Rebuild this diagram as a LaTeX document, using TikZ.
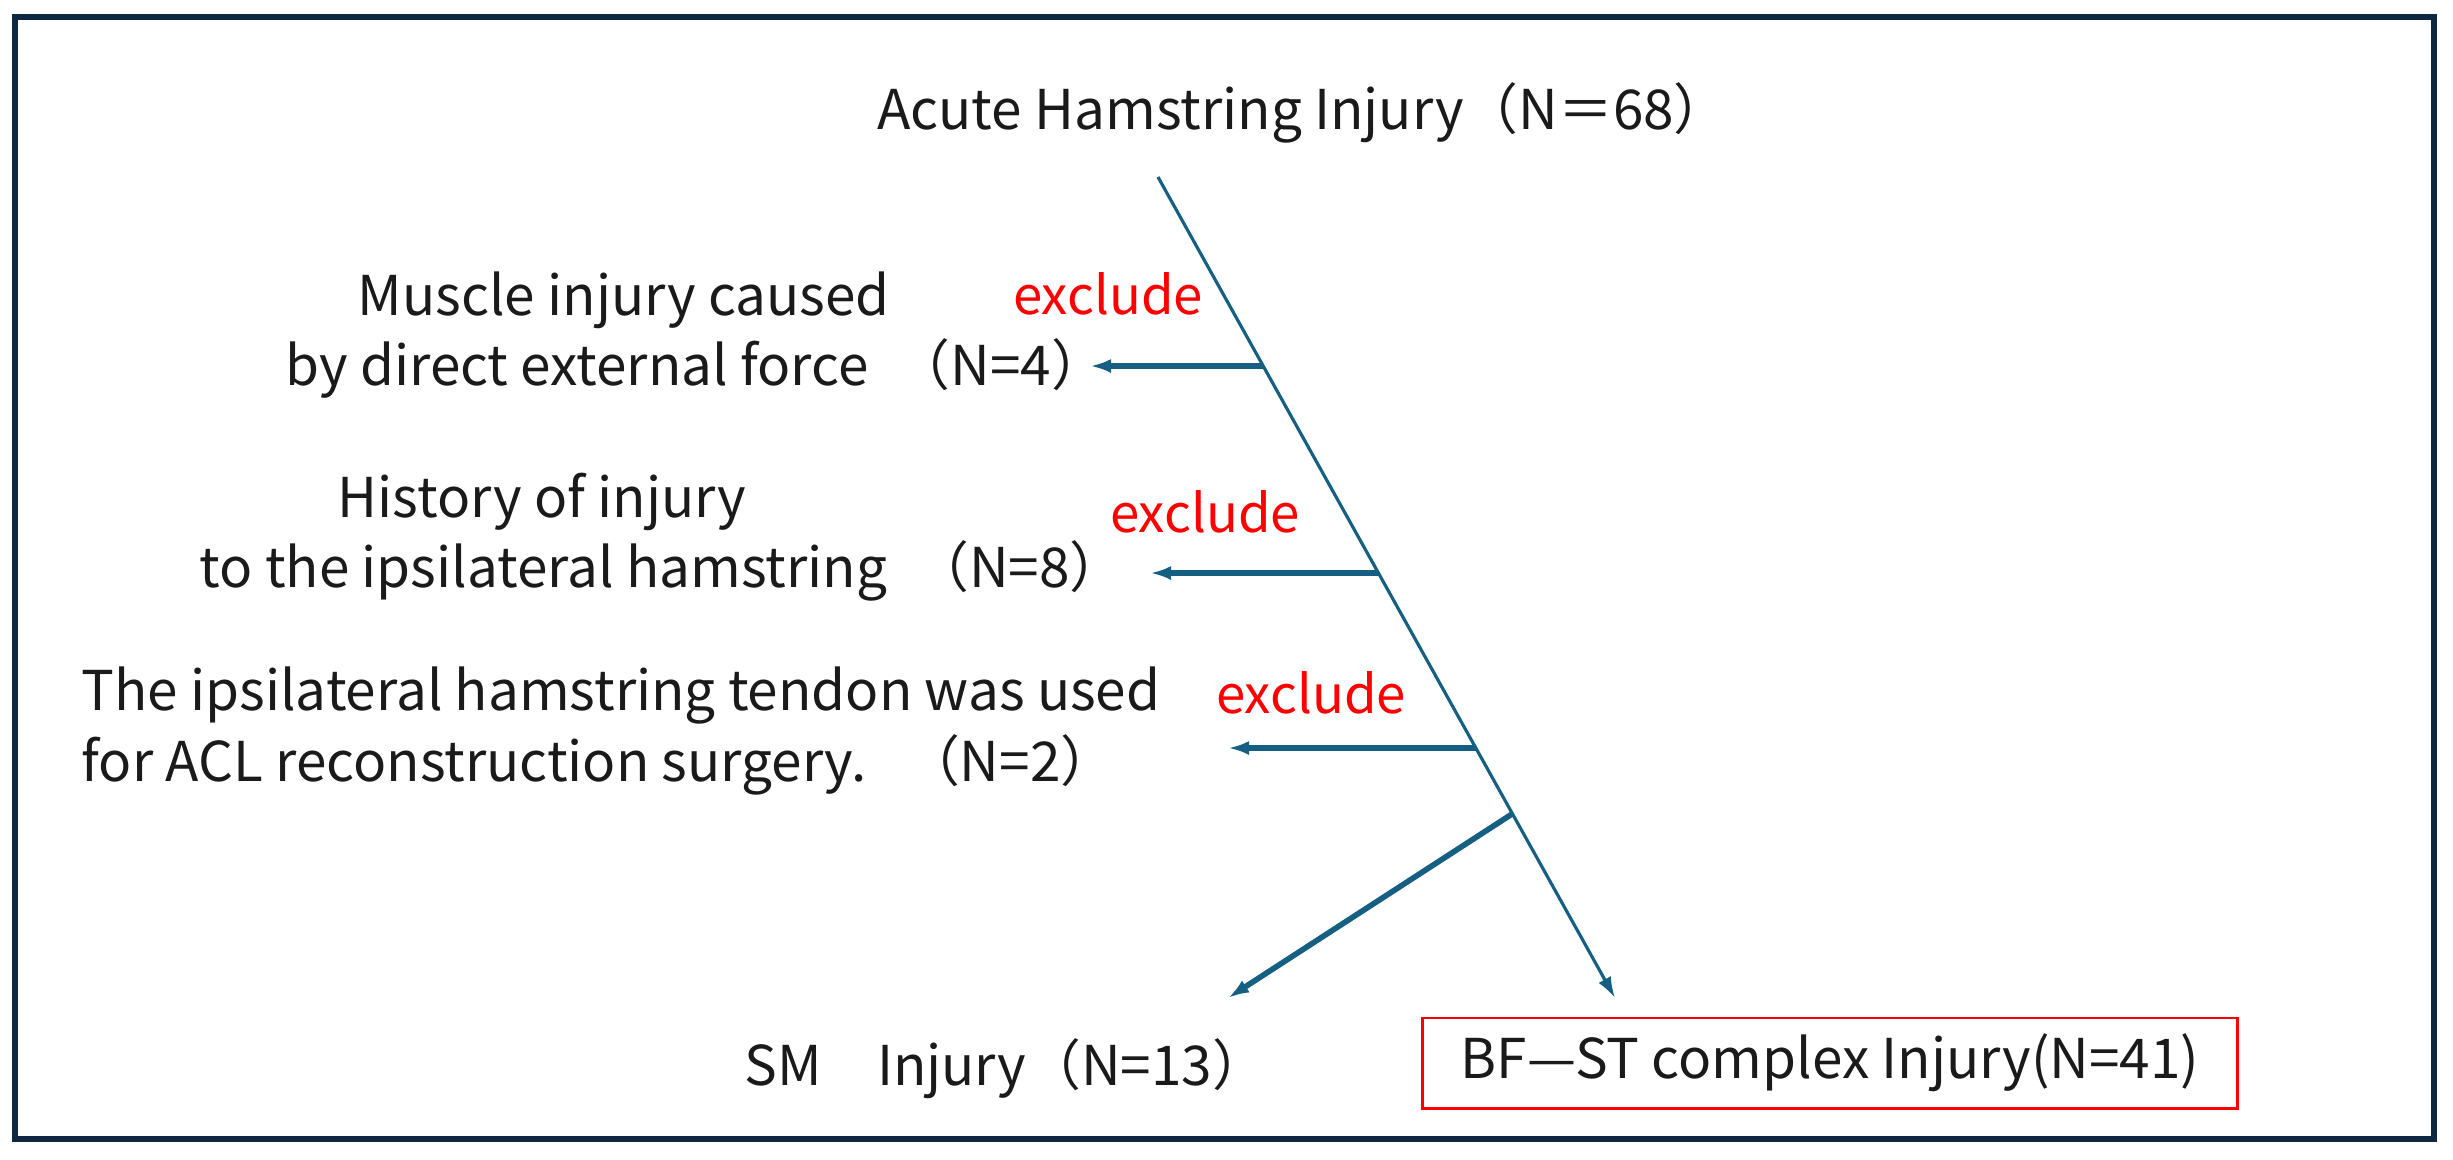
\documentclass[tikz,border=0pt]{standalone}
\usepackage{fontspec}
\setmainfont{Noto Sans CJK JP}
\usetikzlibrary{arrows.meta}

\definecolor{flowblue}{HTML}{156082}
\definecolor{framenavy}{HTML}{0E2841}
\definecolor{inktext}{HTML}{1A1A1A}

\begin{document}
\begin{tikzpicture}[x=0.01cm, y=-0.01cm,
    font=\fontsize{15.6}{20}\selectfont, text=inktext,
    stem/.style={draw=flowblue, line width=0.9pt, -{Latex[length=6pt,width=4pt]}},
    branch/.style={stem, line width=1.6pt},
    excl/.style={text=red, font=\fontsize{15}{20}\selectfont},
    reason/.style={align=left, anchor=west, inner sep=0pt}]

  % -------------------------------------------------------
  % Canvas 2453 x 1159, one unit = one pixel, y runs down
  % Stem   : (1158,177) -- (1615,998)
  % Splits : 366, 573, 748 (exclusions), 814 (SM branch)
  % -------------------------------------------------------
  \useasboundingbox (0,0) rectangle (2453,1159);

  % Outer frame
  \draw[framenavy, line width=1.45pt] (15,17) rectangle (2434,1139);

  % Starting population
  \node (acute) at (1303,113) {Acute Hamstring Injury（N＝68）};

  % Points on the stem
  \coordinate (top) at (1158,177);
  \coordinate (p1)  at (1263,366);
  \coordinate (p2)  at (1378,573);
  \coordinate (p3)  at (1476,748);
  \coordinate (p4)  at (1512,814);
  \coordinate (tip) at (1615,998);

  % Free ends of the side arrows
  \coordinate (e1) at (1090,366);
  \coordinate (e2) at (1150,573);
  \coordinate (e3) at (1228,748);
  \coordinate (e4) at (1228,998);

  % Stem
  \draw[stem] (top) -- (tip);

  % ---- exclusion 1 ----
  \draw[branch] (p1) -- (e1);
  \node[excl] (x1) at (1108,294) {exclude};
  \node[reason] (r1) at (285,335)
    {\hspace*{0.72cm}Muscle injury caused\\by direct external force\hspace{0.5em}（N=4）};

  % ---- exclusion 2 ----
  \draw[branch] (p2) -- (e2);
  \node[excl] (x2) at (1205,512) {exclude};
  \node[reason] (r2) at (199,537)
    {\hspace*{1.38cm}History of injury\\to the ipsilateral hamstring\hspace{0.5em}（N=8）};

  % ---- exclusion 3 ----
  \draw[branch] (p3) -- (e3);
  \node[excl] (x3) at (1311,693) {exclude};
  \node[reason] (r3) at (81,731)
    {The ipsilateral hamstring tendon was used\\for ACL reconstruction surgery.\hspace{0.7em}（N=2）};

  % ---- final groups ----
  \draw[branch] (p4) -- (e4);
  \node (sm) at (1006,1069) {SM　Injury（N=13）};
  \node[draw=red, line width=0.85pt, minimum width=8.15cm, minimum height=0.9cm]
    (bfst) at (1830,1063) {BF—ST complex Injury(N=41)};

\end{tikzpicture}
\end{document}
